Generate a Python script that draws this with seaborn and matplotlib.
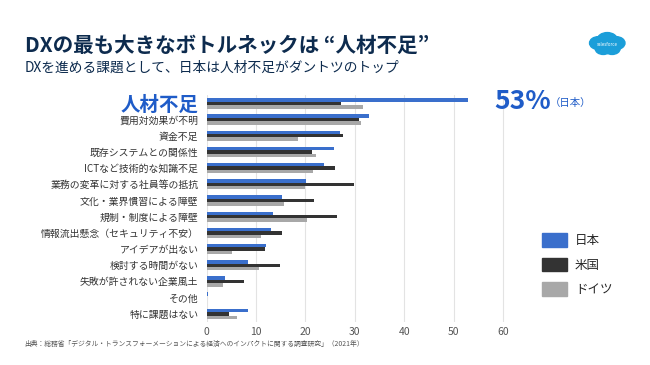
import matplotlib
matplotlib.use("Agg")
import matplotlib.pyplot as plt
import matplotlib.patches as mpatches
import seaborn as sns
import pandas as pd

categories = ["人材不足", "費用対効果が不明", "資金不足", "既存システムとの関係性",
              "ICTなど技術的な知識不足", "業務の変革に対する社員等の抵抗",
              "文化・業界慣習による障壁", "規制・制度による障壁",
              "情報流出懸念（セキュリティ不安）", "アイデアが出ない",
              "検討する時間がない", "失敗が許されない企業風土", "その他", "特に課題はない"]
japan = [53.0, 32.8, 26.9, 25.8, 23.8, 20.1, 15.3, 13.4, 13.0, 12.0, 8.4, 3.8, 0.2, 8.4]
usa = [27.2, 30.8, 27.6, 21.4, 26.0, 29.8, 21.8, 26.4, 15.3, 11.8, 14.9, 7.6, 0.1, 4.5]
germany = [31.7, 31.2, 18.4, 22.1, 21.6, 20.0, 15.7, 20.3, 10.9, 5.1, 10.5, 3.2, 0.1, 6.2]
series_names = ["日本", "米国", "ドイツ"]
xticks = [0, 10, 20, 30, 40, 50, 60]

colors = ["#3A6FCC", "#333333", "#A8A8A8"]

df = pd.concat([
    pd.DataFrame({"課題": categories, "値": vals, "国": name})
    for vals, name in zip([japan, usa, germany], series_names)
])

sns.set_theme(style="white")
plt.rcParams['font.family'] = ['Noto Sans CJK JP', 'DejaVu Sans']

fig = plt.figure(figsize=(6.5, 3.65), dpi=100)
ax = fig.add_axes([0.318, 0.118, 0.471, 0.621])

sns.barplot(data=df, y="課題", x="値", hue="国", hue_order=series_names,
            order=categories, palette=colors, orient="h", width=0.64,
            saturation=1, ax=ax, legend=False, linewidth=0, edgecolor="none")

ax.set_xlim(0, 62)
ax.set_xticks(xticks)
ax.set_xticklabels([str(t) for t in xticks], fontsize=7.5, color="#555555")
ax.set_xlabel("")
ax.set_ylabel("")
ax.grid(axis="x", color="#E3E3E3", linewidth=0.8)
ax.set_axisbelow(True)
for s in ax.spines.values():
    s.set_visible(False)
ax.tick_params(axis="both", length=0, pad=4)
ax.tick_params(axis="y", pad=6)
for i, lbl in enumerate(ax.get_yticklabels()):
    if i == 0:
        lbl.set_fontsize(14)
        lbl.set_fontweight("bold")
        lbl.set_color("#1F5CC8")
    else:
        lbl.set_fontsize(7.1)
        lbl.set_color("#333333")

# Titles
fig.text(0.038, 0.875, "DXの最も大きなボトルネックは “人材不足”", fontsize=14.8,
         fontweight="bold", color="#0D2B4E", va="center")
fig.text(0.038, 0.815, "DXを進める課題として、日本は人材不足がダントツのトップ", fontsize=9.9,
         color="#0D2B4E", va="center")

# 53% annotation
fig.text(0.760, 0.722, "53%", fontsize=19, fontweight="bold", color="#1F5CC8", va="center")
fig.text(0.846, 0.718, "（日本）", fontsize=7.5, color="#1F5CC8", va="center")

# Legend
handles = [mpatches.Patch(color=c, label=n) for c, n in zip(colors, series_names)]
fig.legend(handles=handles, loc="center left", bbox_to_anchor=(0.817, 0.275),
           frameon=False, fontsize=9, handlelength=2.0, handleheight=1.3,
           labelspacing=0.85, handletextpad=0.6)

# Source
fig.text(0.038, 0.058, "出典：総務省「デジタル・トランスフォーメーションによる経済へのインパクトに関する調査研究」（2021年）",
         fontsize=4.9, color="#555555", va="center")

# Salesforce-like logo
lax = fig.add_axes([0.902, 0.838, 0.062, 0.08])
lax.set_xlim(0, 1)
lax.set_ylim(0, 1)
lax.axis("off")
for (cx, cy, r) in [(0.3, 0.55, 0.22), (0.52, 0.66, 0.25), (0.74, 0.55, 0.22), (0.42, 0.36, 0.2), (0.64, 0.36, 0.2)]:
    lax.add_patch(mpatches.Ellipse((cx, cy), 2 * r, 2 * r, color="#1B9ED9"))
lax.text(0.52, 0.5, "salesforce", fontsize=3.2, color="white", ha="center", va="center")

fig.savefig("out.png", dpi=100)
